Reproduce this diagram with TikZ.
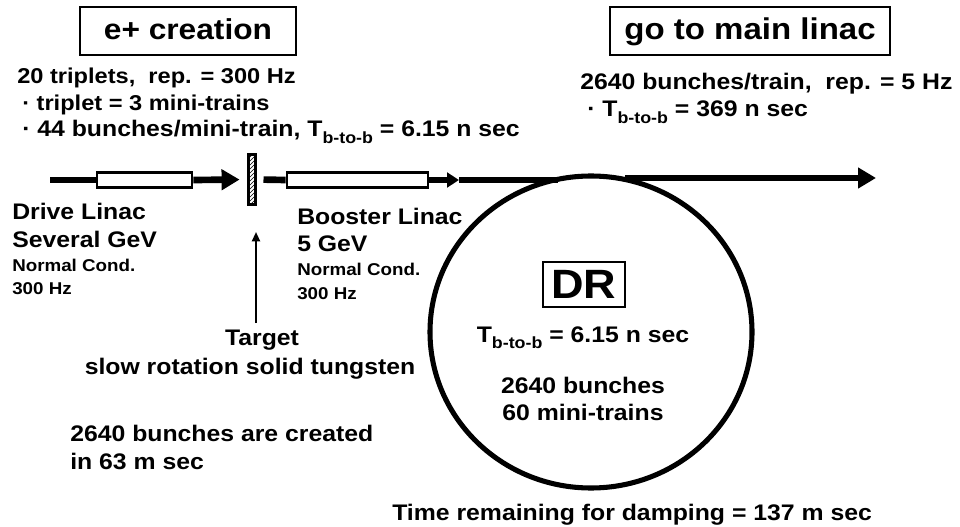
\documentclass[tikz,border=0pt]{standalone}
\usepackage{fontspec}
\setmainfont{Liberation Sans}[FakeStretch=1.1]
\usepackage{graphicx}
\usetikzlibrary{arrows.meta, patterns, shapes.geometric}
\newcommand{\Tbb}{T\raisebox{-0.55ex}{\scalebox{0.72}{b-to-b}}}
\tikzset{
	lbl/.style={
		inner sep=0pt,
		anchor=base west,
		font=\bfseries\fontsize{16.9}{20}\selectfont
	},
	toplbl/.style={
		lbl,
		font=\bfseries\fontsize{16.1}{19}\selectfont
	},
	sublbl/.style={
		lbl,
		font=\bfseries\fontsize{12.8}{15}\selectfont
	},
	title/.style={
		draw,
		line width=1.5pt,
		inner sep=0pt,
		minimum height=36pt,
		text height=18pt,
		text depth=5pt,
		font=\bfseries\fontsize{22.5}{26}\selectfont
	},
	magnet/.style={
		draw,
		line width=2pt,
		fill=white,
		inner sep=0pt,
		minimum height=11.25pt
	},
	beam/.style={
		line width=5pt
	},
	tip/.style={
		-{Triangle[length=13.5pt,width=15pt]}
	}
}

\begin{document}
\begin{tikzpicture}[x=0.75pt, y=-0.75pt]
	\useasboundingbox (0,0) rectangle (960,527);
	
	% headings
	\node[title, minimum width=162pt, font=\bfseries\fontsize{21.6}{25}\selectfont] (creation) at (188,31) {e+ creation};
	\node[title, minimum width=210pt] (mainlinac) at (750,31) {go to main linac};
	
	\node[toplbl] (triplets) at (17,84) {20 triplets,\ \ rep. = 300 Hz};
	\node[toplbl] (minitrain) at (22,111) {·\ triplet = 3 mini-trains};
	\node[lbl] (bunches) at (22,137) {·\ 44 bunches/mini-train, \Tbb{} = 6.15 n sec};
	
	\node[lbl] (train) at (580,90) {2640 bunches/train,\ \ rep. = 5 Hz};
	\node[lbl] (spacing) at (587,117) {·\ \Tbb{} = 369 n sec};
	
	% beam line
	\node[magnet, minimum width=71.25pt] (drive) at (144.5,180) {};
	\node[magnet, minimum width=105.75pt] (booster) at (357.5,180) {};
	\node[draw, line width=2.2pt, pattern=north east lines, inner sep=0pt,
		minimum width=5.25pt, minimum height=37.5pt] (target) at (252,179.5) {};
	
	\coordinate (gun) at (50,180);
	\coordinate (kick) at (459,180);
	\coordinate (inj) at (558,180);
	\coordinate (ext) at (625,178);
	\coordinate (ilc) at (876,178);
	
	\begin{scope}[beam]
		\draw (gun) -- (drive.west);
		\draw[tip, shorten >=5.6pt] (drive.east) -- (target.west);
		\draw[shorten <=4.9pt] (target.east) -- (booster.west);
		\draw[-{Triangle[length=9pt,width=11pt]}] (booster.east) -- (kick);
		\draw (kick) -- (inj);
		\draw[tip] (ext) -- (ilc);
	\end{scope}
	
	% damping ring
	\node[draw, ellipse, line width=3.8pt, inner sep=0pt,
		minimum width=241.5pt, minimum height=234pt] (ring) at (591,332) {};
	\node[draw, line width=1.5pt, inner sep=0pt, minimum width=61.5pt, minimum height=33.75pt,
		font=\bfseries\fontsize{30.7}{34}\selectfont] (dr) at (584,284.5) {DR};
	\node[lbl, anchor=base] (drspacing) at (583,342) {\Tbb{} = 6.15 n sec};
	\node[lbl, anchor=base] (drbunches) at (583,393) {2640 bunches};
	\node[lbl, anchor=base] (drtrains) at (583,420) {60 mini-trains};
	
	% linac descriptions
	\node[lbl] (drivename) at (12,220) {Drive Linac};
	\node[lbl] (drivee) at (12,248) {Several GeV};
	\node[sublbl] (drivecond) at (12,272) {Normal Cond.};
	\node[sublbl] (driverep) at (12,295) {300 Hz};
	
	\node[lbl] (boostername) at (297,225) {Booster Linac};
	\node[lbl] (boostere) at (297,252) {5 GeV};
	\node[sublbl] (boostercond) at (297,276) {Normal Cond.};
	\node[sublbl] (boosterrep) at (297,300) {300 Hz};
	
	% target
	\node[lbl, anchor=base] (targetname) at (262,345) {Target};
	\node[lbl, anchor=base] (tungsten) at (250,374) {slow rotation solid tungsten};
	\coordinate (hit) at (256,232);
	\draw[line width=1.5pt, -{Triangle[length=7pt,width=6pt]}] (targetname.north -| hit) ++(0,-6) -- (hit);
	
	\node[lbl] (created) at (70,441) {2640 bunches are created};
	\node[lbl] (createtime) at (70,469) {in 63 m sec};
	
	\node[lbl] (damping) at (392,520) {Time remaining for damping = 137 m sec};
\end{tikzpicture}
\end{document}
